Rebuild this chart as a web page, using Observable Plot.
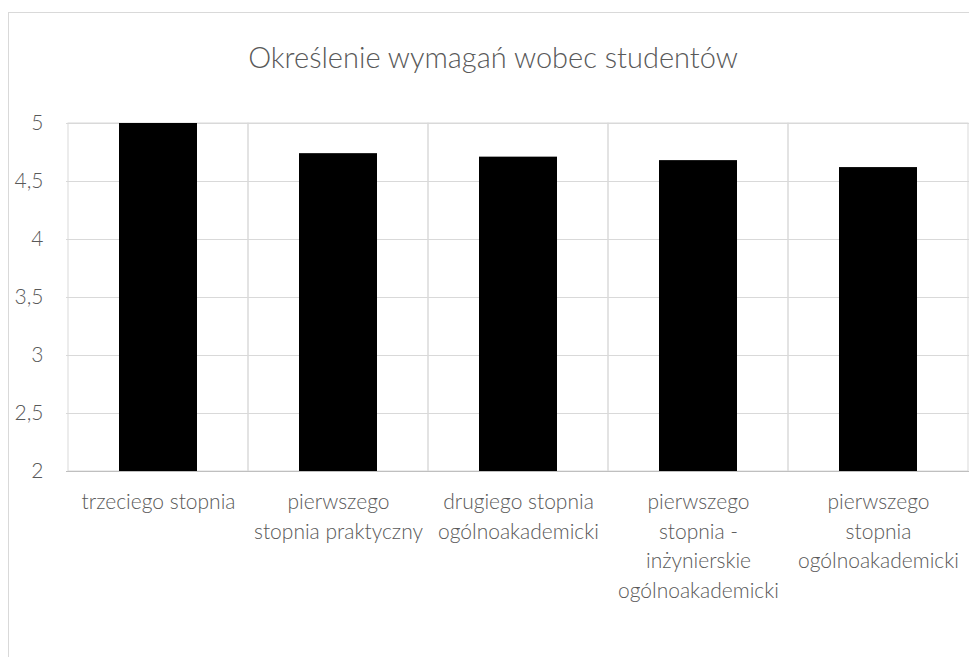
<!DOCTYPE html>
<html>
<head>
<meta charset="utf-8">
<script src="https://cdn.jsdelivr.net/npm/d3@7"></script>
<script src="https://cdn.jsdelivr.net/npm/@observablehq/plot@0.6"></script>
<style>
  html, body { margin: 0; padding: 0; background: #fff; width: 969px; height: 657px; overflow: hidden; }
  #frame { position: absolute; left: 8px; top: 12px; width: 1000px; height: 700px; border: 1px solid #d9d9d9; box-sizing: border-box; }
  #chart { position: absolute; left: 0; top: 0; }
  #title { position: absolute; left: 8px; width: 970px; top: 40px; text-align: center; font-family: Lato, sans-serif; font-weight: 300; font-size: 29px; line-height: 34px; color: #595959; }
</style>
</head>
<body>
<div id="frame"></div>
<div id="chart"></div>
<div id="title">Określenie wymagań wobec studentów</div>
<script>
const categories = [
  "trzeciego stopnia",
  "pierwszego stopnia praktyczny",
  "drugiego stopnia ogólnoakademicki",
  "pierwszego stopnia - inżynierskie ogólnoakademicki",
  "pierwszego stopnia ogólnoakademicki"
];
const tickLabels = [
  "trzeciego stopnia",
  "pierwszego\nstopnia praktyczny",
  "drugiego stopnia\nogólnoakademicki",
  "pierwszego\nstopnia -\ninżynierskie\nogólnoakademicki",
  "pierwszego\nstopnia\nogólnoakademicki"
];
const values = [5.0, 4.74, 4.71, 4.68, 4.62];
const yTicks = [2, 2.5, 3, 3.5, 4, 4.5, 5];

const data = categories.map((c, i) => ({category: c, value: values[i]}));
const fmt = d => String(d).replace(".", ",");

const chart = Plot.plot({
  width: 969,
  height: 657,
  marginLeft: 66,
  marginRight: 0,
  marginTop: 123,
  marginBottom: 186,
  style: {background: "transparent", fontFamily: "Lato, sans-serif", fontWeight: 300, fontSize: "21px", color: "#595959"},
  x: {domain: categories, padding: 0, label: null},
  y: {domain: [2, 5], label: null},
  marks: [
    Plot.gridY(yTicks, {stroke: "#d9d9d9", strokeOpacity: 1}),
    Plot.cell(categories, {x: d => d, fill: "none", stroke: "#d9d9d9", strokeWidth: 1}),
    Plot.barY(data, {x: "category", y1: 2, y2: "value", fill: "black", insetLeft: 51, insetRight: 51}),
    Plot.ruleY([2], {stroke: "#bfbfbf"}),
    Plot.axisY({ticks: yTicks, tickSize: 0, tickPadding: 23, tickFormat: fmt, label: null, fill: "#595959"}),
    Plot.axisX({tickSize: 0, tickPadding: 17, lineHeight: 1.4, label: null, fill: "#595959",
      tickFormat: d => tickLabels[categories.indexOf(d)]})
  ]
});
document.getElementById("chart").appendChild(chart);
</script>
</body>
</html>
